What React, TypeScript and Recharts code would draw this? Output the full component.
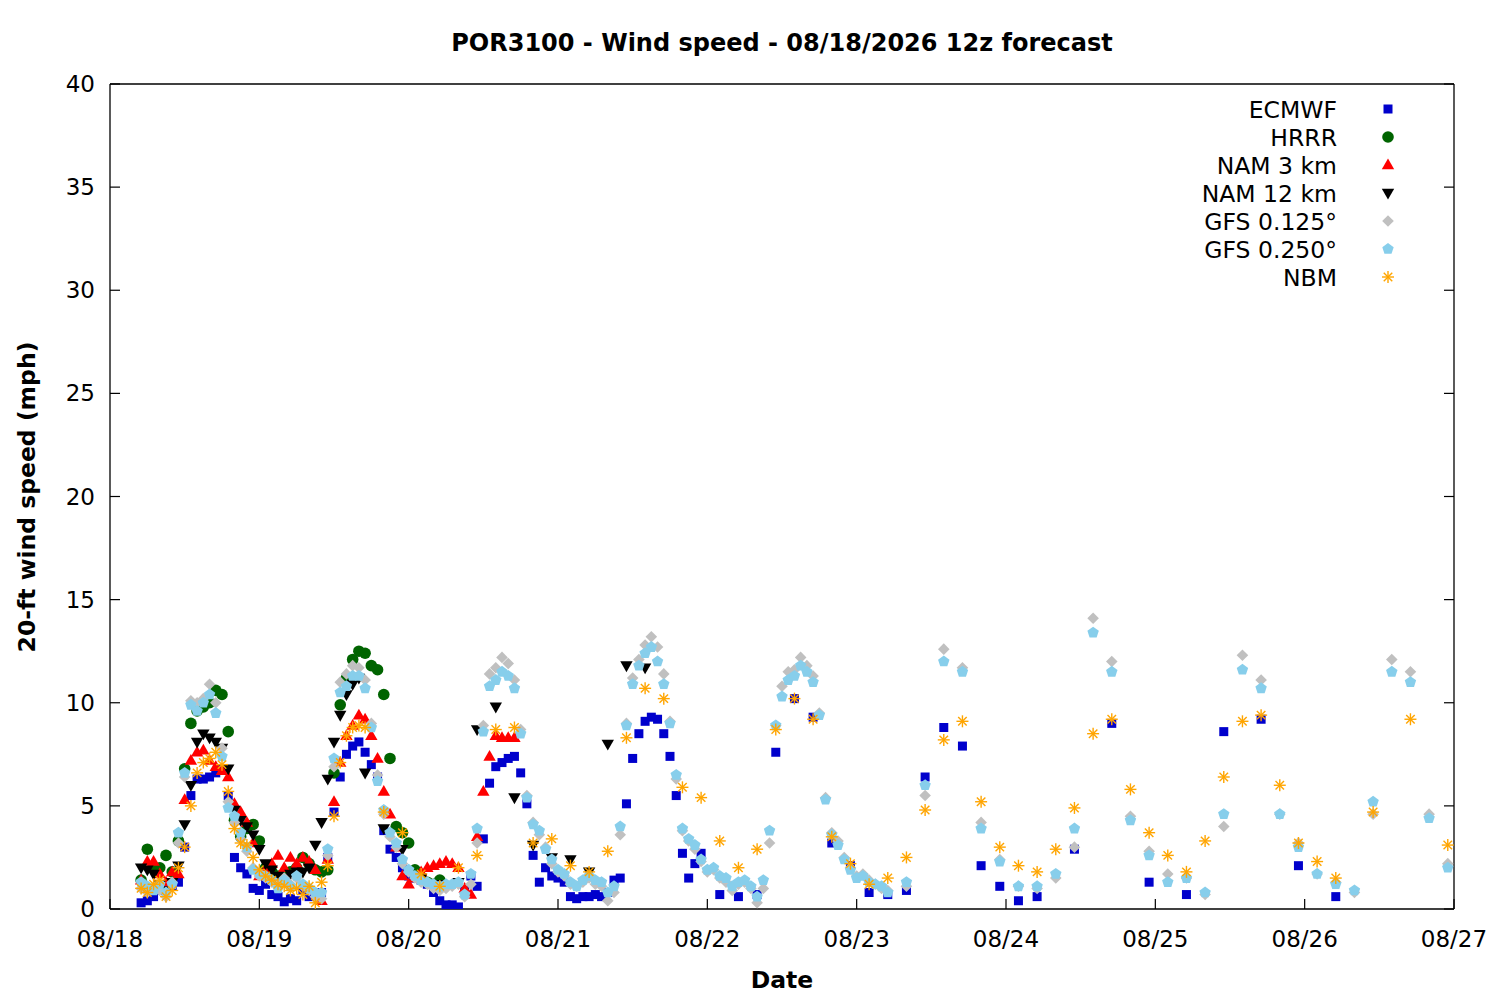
import React from "react";
import { Scatter, ScatterChart, XAxis, YAxis } from "recharts";

// x = hours since 08/18 00 local time; the 12z run starts at 05 local
const dayLabels = ["08/18", "08/19", "08/20", "08/21", "08/22", "08/23", "08/24", "08/25", "08/26", "08/27"];
const speedTicks = [0, 5, 10, 15, 20, 25, 30, 35, 40];

// ECMWF: hourly 05-95, 3-hourly 98-149, 6-hourly 155-197
const ecmwfHourly = [
  0.3, 0.4, 0.6, 0.9, 1.0, 1.1, 1.3, 3.0, 5.5, 6.3,
  6.3, 6.4, 6.6, 6.8, 5.5, 2.5, 2.0, 1.7, 1.0, 0.9,
  1.2, 0.7, 0.6, 0.35, 0.5, 0.4, 0.9, 0.6, 0.7, 0.8,
  2.5, 4.7, 6.4, 7.5, 7.9, 8.1, 7.6, 7.0, 6.4, 3.8,
  2.9, 2.5, 2.0, 1.6, 1.5, 1.4, 1.2, 0.8, 0.4, 0.2,
  0.2, 0.1, 0.9, 1.6, 1.1, 3.4, 6.1, 6.9, 7.1, 7.3,
  7.4, 6.6, 5.1, 2.6, 1.3, 2.0, 1.6, 1.5, 1.3, 0.6,
  0.5, 0.6, 0.6, 0.7, 0.6, 0.8, 1.4, 1.5, 5.1, 7.3,
  8.5, 9.1, 9.3, 9.2, 8.5, 7.4, 5.5, 2.7, 1.5, 2.2, 2.7,
];
const ecmwf3h = [0.7, 0.6, 0.7, 7.6, 10.2, 9.3, 3.2, 2.1, 0.8, 0.7, 0.9, 6.4, 8.8, 7.9, 2.1, 1.1, 0.4, 0.6];
const ecmwf6h = [2.9, 9.0, 1.3, 0.7, 8.6, 9.2, 2.1, 0.6];

// HRRR: hourly 05-53
const hrrrHourly = [
  1.4, 2.9, 2.0, 2.0, 2.6, 1.8, 3.3, 6.8, 9.0, 9.6,
  9.8, 10.0, 10.6, 10.4, 8.6, 4.3, 3.5, 3.9, 4.1, 3.3,
  2.0, 1.8, 1.6, 1.7, 1.8, 2.0, 2.5, 2.2, 1.9, 1.8,
  1.9, 6.6, 9.9, 11.2, 12.1, 12.5, 12.4, 11.8, 11.6, 10.4,
  7.3, 4.0, 3.7, 3.2, 1.9, 1.5, 1.3, 1.2, 1.4,
];

// NAM 3 km: hourly 05-65
const nam3Hourly = [
  1.4, 2.3, 2.3, 1.7, 1.3, 1.8, 1.7, 5.3, 7.2, 7.6,
  7.7, 7.2, 6.9, 6.7, 6.4, 5.1, 4.7, 4.2, 3.2, 1.6,
  1.9, 2.2, 2.6, 2.0, 2.5, 2.2, 2.5, 2.3, 1.9, 0.4,
  2.4, 5.2, 7.1, 8.4, 8.9, 9.4, 9.2, 8.4, 7.3, 5.7,
  4.6, 3.0, 1.6, 1.2, 1.5, 1.8, 2.0, 2.1, 2.2, 2.3,
  2.2, 2.0, 1.0, 0.7, 3.5, 5.7, 7.4, 8.4, 8.3, 8.3, 8.3,
];

// NAM 12 km: hourly 05-41, 3-hourly 44-86
const nam12Hourly = [
  2.0, 1.9, 1.7, 1.2, 0.9, 1.3, 2.1, 4.1, 6.0, 8.1,
  8.5, 8.3, 8.1, 7.8, 6.8, 4.8, 4.3, 4.0, 3.6, 2.9,
  2.2, 1.9, 1.6, 1.5, 1.7, 1.8, 1.8, 2.0, 3.1, 4.2,
  6.3, 8.1, 9.4, 10.4, 10.9, 11.2, 6.6,
];
const nam12ThreeHourly = [3.9, 2.9, 1.5, 1.2, 1.3, 8.7, 9.8, 5.4, 3.1, 2.5, 2.4, 1.8, 8.0, 11.8, 11.7];

// GFS 0.125: hourly 05-125, 3-hourly 128-215
const gfs125Hourly = [
  1.0, 0.8, 1.0, 0.9, 0.6, 1.3, 3.2, 6.4, 10.1, 10.0,
  10.2, 10.9, 10.0, 7.8, 5.2, 4.2, 3.4, 2.8, 2.0, 1.6,
  1.5, 1.3, 1.2, 1.5, 1.2, 1.5, 1.1, 0.9, 0.6, 0.5,
  2.6, 6.9, 11.0, 11.4, 11.8, 11.7, 11.1, 9.0, 6.5, 4.6,
  3.5, 3.0, 2.2, 1.8, 1.5, 1.3, 1.2, 1.0, 0.9, 1.0,
  1.1, 1.2, 0.6, 1.2, 3.2, 8.9, 11.4, 11.7, 12.2, 11.9,
  11.1, 8.7, 5.5, 4.2, 3.6, 3.0, 2.2, 1.8, 1.6, 1.2,
  1.1, 1.3, 1.5, 1.2, 1.1, 0.4, 0.8, 3.6, 9.0, 11.2,
  12.1, 12.8, 13.2, 12.7, 11.4, 9.1, 6.3, 3.8, 3.3, 2.9,
  2.3, 1.8, 1.9, 1.5, 1.3, 0.9, 1.2, 1.3, 1.0, 0.3,
  1.0, 3.2, 8.9, 10.8, 11.5, 11.6, 12.2, 11.8, 11.3, 9.5,
  5.4, 3.7, 3.3, 2.5, 2.0, 1.6, 1.7, 1.4, 1.2, 1.0, 0.9,
];
const gfs125ThreeHourly = [
  1.1, 5.5, 12.6, 11.7, 4.2, 2.4, 1.1, 1.0, 1.5, 3.0,
  14.1, 12.0, 4.5, 2.8, 1.7, 1.5, 0.7, 4.0, 12.3, 11.1,
  4.6, 3.2, 1.7, 1.3, 0.8, 4.6, 12.1, 11.5, 4.6, 2.2,
];

// GFS 0.250: hourly 05-125, 3-hourly 128-215
const gfs25Hourly = [
  1.3, 1.1, 0.9, 1.2, 0.8, 1.2, 3.7, 6.6, 9.9, 9.6,
  10.0, 10.4, 9.5, 7.4, 4.9, 4.5, 3.7, 3.0, 1.9, 1.7,
  1.6, 1.4, 1.0, 1.4, 1.1, 1.6, 1.2, 1.0, 0.8, 0.8,
  2.9, 7.3, 10.5, 10.8, 11.3, 11.3, 10.7, 8.8, 6.2, 4.8,
  3.7, 3.2, 2.4, 1.9, 1.6, 1.4, 1.3, 1.2, 1.1, 1.2,
  1.2, 1.3, 0.7, 1.7, 3.9, 8.6, 10.8, 11.1, 11.5, 11.3,
  10.7, 8.5, 5.4, 4.1, 3.8, 2.9, 2.4, 1.9, 1.7, 1.3,
  1.1, 1.4, 1.6, 1.4, 1.3, 0.8, 1.1, 4.0, 8.9, 10.9,
  11.8, 12.4, 12.7, 12.0, 10.9, 9.0, 6.5, 3.9, 3.4, 3.1,
  2.4, 1.9, 2.0, 1.6, 1.5, 1.1, 1.3, 1.4, 1.1, 0.6,
  1.4, 3.8, 8.9, 10.3, 11.1, 11.3, 11.8, 11.5, 11.0, 9.4,
  5.3, 3.6, 3.1, 2.4, 1.9, 1.5, 1.6, 1.3, 1.2, 1.1, 0.8,
];
const gfs25ThreeHourly = [
  1.3, 6.0, 12.0, 11.5, 3.9, 2.3, 1.1, 1.1, 1.7, 3.9,
  13.4, 11.5, 4.3, 2.6, 1.3, 1.5, 0.8, 4.6, 11.6, 10.7,
  4.6, 3.0, 1.7, 1.2, 0.9, 5.2, 11.5, 11.0, 4.4, 2.0,
];

// NBM: hourly 05-41, 3-hourly 44-197, 6-hourly 203-215
const nbmHourly = [
  1.0, 0.8, 1.2, 1.4, 0.6, 0.9, 2.0, 3.0, 5.0, 6.6,
  7.1, 7.3, 7.6, 7.0, 5.7, 3.9, 3.2, 3.1, 2.5, 1.9,
  1.6, 1.4, 1.2, 1.1, 0.9, 1.0, 0.7, 1.1, 0.3, 1.3,
  2.1, 4.5, 7.1, 8.4, 8.8, 8.9, 8.8,
];
const nbmThreeHourly = [
  4.7, 3.7, 1.7, 1.1, 2.0, 2.6, 8.7, 8.8, 3.2, 3.4,
  2.1, 1.8, 2.8, 8.3, 10.7, 10.2, 5.9, 5.4, 3.3, 2.0,
  2.9, 8.7, 10.2, 9.2, 3.5, 2.2, 1.2, 1.5, 2.5, 4.8,
  8.2, 9.1, 5.2, 3.0, 2.1, 1.8, 2.9, 4.9, 8.5, 9.2,
  5.8, 3.7, 2.6, 1.8, 3.3, 6.4, 9.1, 9.4, 6.0, 3.2,
  2.3, 1.5,
];
const nbmSixHourly = [4.7, 9.2, 3.1];

type Seg = [number, number, number[]];

function toPoints(segs: Seg[]) {
  const out: { h: number; v: number }[] = [];
  for (const [start, step, vals] of segs) {
    vals.forEach((v, i) => out.push({ h: start + i * step, v }));
  }
  return out;
}

const series = [
  { name: "ECMWF", color: "#0000cc", kind: "square", data: toPoints([[5, 1, ecmwfHourly], [98, 3, ecmwf3h], [155, 6, ecmwf6h]]) },
  { name: "HRRR", color: "#006400", kind: "circle", data: toPoints([[5, 1, hrrrHourly]]) },
  { name: "NAM 3 km", color: "#ff0000", kind: "up", data: toPoints([[5, 1, nam3Hourly]]) },
  { name: "NAM 12 km", color: "#000000", kind: "down", data: toPoints([[5, 1, nam12Hourly], [44, 3, nam12ThreeHourly]]) },
  { name: "GFS 0.125°", color: "#c0c0c0", kind: "diamond", data: toPoints([[5, 1, gfs125Hourly], [128, 3, gfs125ThreeHourly]]) },
  { name: "GFS 0.250°", color: "#87ceeb", kind: "pentagon", data: toPoints([[5, 1, gfs25Hourly], [128, 3, gfs25ThreeHourly]]) },
  { name: "NBM", color: "#ffa500", kind: "star", data: toPoints([[5, 1, nbmHourly], [44, 3, nbmThreeHourly], [203, 6, nbmSixHourly]]) },
];

const FONT = '"DejaVu Sans", sans-serif';

function Marker({ kind, color, cx, cy }: { kind: string; color: string; cx: number; cy: number }) {
  if (cx == null || cy == null) return null;
  switch (kind) {
    case "square":
      return <rect x={cx - 4.5} y={cy - 4.5} width={9} height={9} fill={color} />;
    case "circle":
      return <circle cx={cx} cy={cy} r={5.8} fill={color} />;
    case "up":
      return <polygon points={`${cx},${cy - 6.5} ${cx + 6.2},${cy + 4.3} ${cx - 6.2},${cy + 4.3}`} fill={color} />;
    case "down":
      return <polygon points={`${cx},${cy + 6.5} ${cx + 6.2},${cy - 4.3} ${cx - 6.2},${cy - 4.3}`} fill={color} />;
    case "diamond":
      return <polygon points={`${cx},${cy - 5.8} ${cx + 5.8},${cy} ${cx},${cy + 5.8} ${cx - 5.8},${cy}`} fill={color} />;
    case "pentagon": {
      const pts = [0, 1, 2, 3, 4]
        .map((k) => {
          const a = -Math.PI / 2 + (k * 2 * Math.PI) / 5;
          return `${cx + 6 * Math.cos(a)},${cy + 6 * Math.sin(a)}`;
        })
        .join(" ");
      return <polygon points={pts} fill={color} />;
    }
    default: {
      const r = 6;
      const d = r * 0.7071;
      return (
        <g stroke={color} strokeWidth={1.4}>
          <line x1={cx - r} y1={cy} x2={cx + r} y2={cy} />
          <line x1={cx} y1={cy - r} x2={cx} y2={cy + r} />
          <line x1={cx - d} y1={cy - d} x2={cx + d} y2={cy + d} />
          <line x1={cx - d} y1={cy + d} x2={cx + d} y2={cy - d} />
        </g>
      );
    }
  }
}

const BottomTick = ({ x, y, payload }: any) => (
  <g>
    <line x1={x} x2={x} y1={y} y2={y - 10} stroke="#000" strokeWidth={1.2} />
    <text x={x} y={y + 38} textAnchor="middle" fontSize={23} fontFamily={FONT} fill="#000">
      {dayLabels[Math.round(payload.value / 24)]}
    </text>
  </g>
);
const TopTick = ({ x, y }: any) => <line x1={x} x2={x} y1={y} y2={y + 10} stroke="#000" strokeWidth={1.2} />;
const LeftTick = ({ x, y, payload }: any) => (
  <g>
    <line x1={x} x2={x + 10} y1={y} y2={y} stroke="#000" strokeWidth={1.2} />
    <text x={x - 15} y={y + 8} textAnchor="end" fontSize={23} fontFamily={FONT} fill="#000">
      {payload.value}
    </text>
  </g>
);
const RightTick = ({ x, y }: any) => <line x1={x} x2={x - 10} y1={y} y2={y} stroke="#000" strokeWidth={1.2} />;

const border = { stroke: "#000", strokeWidth: 1.3 };

export default function App() {
  return (
    <div style={{ position: "relative", width: 1500, height: 1000, background: "#fff", fontFamily: FONT, color: "#000" }}>
      <style>{"body{margin:0}"}</style>
      <ScatterChart width={1500} height={1000} margin={{ top: 0, right: 0, bottom: 0, left: 0 }}>
        <XAxis
          type="number"
          dataKey="h"
          domain={[0, 216]}
          ticks={dayLabels.map((_, i) => i * 24)}
          interval={0}
          height={91}
          tickSize={0}
          tickMargin={0}
          tick={BottomTick}
          axisLine={border}
          allowDataOverflow
        />
        <XAxis
          xAxisId="top"
          orientation="top"
          type="number"
          domain={[0, 216]}
          ticks={dayLabels.map((_, i) => i * 24)}
          interval={0}
          height={84}
          tickSize={0}
          tickMargin={0}
          tick={TopTick}
          axisLine={border}
          allowDataOverflow
        />
        <YAxis
          type="number"
          dataKey="v"
          domain={[0, 40]}
          ticks={speedTicks}
          interval={0}
          width={110}
          tickSize={0}
          tickMargin={0}
          tick={LeftTick}
          axisLine={border}
          allowDataOverflow
        />
        <YAxis
          yAxisId="right"
          orientation="right"
          type="number"
          domain={[0, 40]}
          ticks={speedTicks}
          interval={0}
          width={46}
          tickSize={0}
          tickMargin={0}
          tick={RightTick}
          axisLine={border}
          allowDataOverflow
        />
        {series.map((s) => (
          <Scatter
            key={s.name}
            name={s.name}
            data={s.data}
            isAnimationActive={false}
            shape={(p: any) => <Marker kind={s.kind} color={s.color} cx={p.cx} cy={p.cy} />}
          />
        ))}
      </ScatterChart>

      <div style={{ position: "absolute", left: 110, width: 1344, top: 29, textAlign: "center", fontSize: 24, fontWeight: "bold", lineHeight: "28px" }}>
        POR3100 - Wind speed - 08/18/2026 12z forecast
      </div>
      <div style={{ position: "absolute", left: 110, width: 1344, top: 966, textAlign: "center", fontSize: 23.5, fontWeight: "bold", lineHeight: "28px" }}>
        Date
      </div>
      <div
        style={{
          position: "absolute",
          left: 27 - 300,
          top: 497 - 15,
          width: 600,
          height: 30,
          lineHeight: "30px",
          textAlign: "center",
          fontSize: 23.5,
          fontWeight: "bold",
          transform: "rotate(-90deg)",
        }}
      >
        20-ft wind speed (mph)
      </div>

      {series.map((s, i) => (
        <div key={s.name}>
          <div style={{ position: "absolute", right: 163, top: 110 + i * 28 - 14, lineHeight: "28px", fontSize: 23.5, whiteSpace: "nowrap" }}>
            {s.name}
          </div>
          <svg style={{ position: "absolute", left: 1380, top: 109 + i * 28 - 8 }} width={16} height={16}>
            <Marker kind={s.kind} color={s.color} cx={8} cy={8} />
          </svg>
        </div>
      ))}
    </div>
  );
}
